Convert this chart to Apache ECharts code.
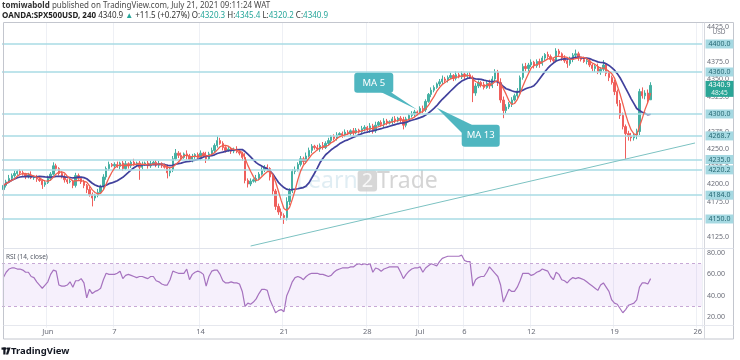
<!DOCTYPE html>
<html><head><meta charset="utf-8">
<script src="https://cdn.jsdelivr.net/npm/echarts@6/dist/echarts.min.js"></script>
<style>html,body{margin:0;padding:0;background:#fff}#c{width:740px;height:360px}</style>
</head><body><div id="c"></div>
<script>
// ---- data (4h bars, OANDA:SPX500USD) ----
const closes = [
4198,4203,4208,4212,4215,4218,4216,4214,4211,4213,
4209,4210,4207,4205,4199,4202,4208,4214,4226,4222,
4215,4210,4206,4203,4204,4198,4212,4208,4203,4198,
4192,4185,4180,4184,4188,4196,4210,4222,4228,4226,
4228,4225,4230,4222,4229,4226,4231,4228,4230,4224,
4228,4230,4226,4229,4231,4227,4229,4226,4224,4216,
4220,4236,4244,4241,4238,4243,4240,4235,4239,4242,
4238,4244,4241,4236,4243,4248,4255,4262,4258,4252,
4248,4250,4247,4250,4246,4244,4238,4205,4200,4204,
4206,4208,4214,4220,4224,4222,4210,4190,4168,4160,
4155,4152,4175,4190,4218,4220,4228,4236,4232,4240,
4248,4254,4252,4250,4255,4252,4258,4262,4268,4265,
4270,4272,4270,4274,4272,4276,4273,4277,4275,4279,
4281,4278,4283,4276,4284,4288,4285,4290,4287,4289,
4293,4290,4294,4292,4284,4293,4298,4300,4303,4301,
4308,4306,4318,4328,4334,4338,4343,4346,4350,4348,
4352,4355,4351,4356,4353,4357,4354,4356,4352,4330,
4340,4345,4342,4338,4344,4340,4350,4360,4345,4320,
4305,4310,4314,4320,4326,4333,4352,4368,4365,4370,
4374,4369,4375,4372,4380,4385,4382,4378,4376,4390,
4386,4380,4376,4372,4378,4384,4386,4380,4378,4375,
4376,4370,4365,4368,4360,4364,4370,4358,4352,4345,
4332,4315,4298,4282,4272,4268,4266,4270,4275,4332,
4326,4330,4320.3,4340.9];
const firstOpen = 4192;
const upperWicks = [
4,3,5,3,4,2,3,4,2,3,5,2,3,4,2,3,4,3,5,3,
2,3,4,2,3,2,4,3,2,3,2,4,3,2,5,3,4,3,4,2,
3,4,2,3,4,2,3,5,2,3,4,2,3,4,2,3,4,2,3,4,
3,4,6,3,4,2,5,3,4,2,3,4,2,5,3,4,3,6,4,3,
2,4,3,2,4,3,2,6,3,4,2,5,3,4,3,4,2,5,3,4,
5,3,6,4,3,5,3,4,3,5,4,3,2,4,3,5,3,4,2,3,
4,2,3,4,3,2,4,3,2,4,3,2,4,3,5,2,3,4,3,2,
3,4,2,3,4,3,2,4,3,2,3,4,3,2,4,3,2,4,5,3,
3,4,2,5,3,4,2,3,4,3,4,3,2,4,3,5,4,4,3,6,
5,4,3,4,3,4,3,4,5,3,4,2,3,4,3,2,4,3,2,4,
3,2,4,3,4,3,6,3,2,4,3,4,2,3,4,3,7,3,4,3,
4,3,5,4,3,4,5,3,4,4,6,4,5,4.5];
const lowerWicks = [
7,3,2,4,3,2,3,2,4,3,2,3,4,2,6,3,2,3,2,3,
3,2,4,3,2,4,3,2,3,4,5,3,12,4,3,2,3,4,3,2,
3,2,4,3,2,4,3,2,3,18,3,2,4,3,2,3,4,3,2,8,
5,3,2,4,3,2,5,3,4,3,2,4,3,6,2,3,4,3,2,4,
3,2,4,3,2,3,5,4,5,3,2,4,3,2,3,4,5,6,5,4,
6,9,4,5,3,4,2,3,4,3,2,4,3,2,4,3,2,3,4,3,
3,2,4,3,2,3,4,2,3,2,4,3,5,4,3,2,3,4,3,2,
4,3,2,4,6,3,2,3,4,3,2,5,3,2,4,3,2,3,4,3,
3,2,4,3,2,3,4,3,2,13,4,3,4,3,2,4,3,4,5,4,
11,4,3,4,2,3,4,3,4,5,3,4,3,6,3,4,3,4,3,2,
3,4,3,6,3,4,3,4,3,2,4,3,4,5,3,4,3,4,5,3,
5,4,5,4,36,6,5,4,6,5,4,5,4,0.1];
const rsiValues = [
57,62,65,66,66,65,65,64,62,62,
58,57,53,50,47,50,53,60,64,63,
50,49,49,50,53,48,54,54,56,52,
38,46,42,44,45,47,55,61,60,60,
60,61,63,56,59,60,59,58,57,58,
58,57,56,58,58,54,53,51,50,50,
55,63,62,61,61,61,65,55,60,62,
63,62,60,49,58,63,64,64,60,54,
52,52,53,52,52,51,44,30,33,32,
34,37,42,46,46,45,36,30,24,26,
27,25,40,46,53,57,58,57,55,58,
60,61,61,61,60,60,59,58,59,62,
64,65,66,66,66,67,67,69,70,69,
70,69,70,62,66,65,63,65,66,67,
67,67,67,62,56,60,63,65,66,66,
67,62,66,68,70,69,68,72,75,76,
77,77,77,77,77,78,73,72,72,49,
55,57,58,58,62,67,64,61,58,50,
34,40,46,44,44,48,54,61,61,61,
59,60,62,63,65,64,63,58,55,62,
60,55,54,52,55,57,56,57,56,55,
53,51,49,47,45,50,52,48,44,36,
33,32,28,24,27,31,32,33,36,48,
52,52,51,56];
const levels = [4400.0, 4360.0, 4300.0, 4268.7, 4235.0, 4220.2, 4184.0, 4150.0];
const trendLine = [[89, 4111.4], [249, 4258.6]];
const tickIdx = [16, 40, 71, 101, 131, 150, 166, 190, 220, 250];
const tickText = ['Jun', '7', '14', '21', '28', 'Jul', '6', '12', '19', '26'];
const lastPrice = 4340.9;
const countdown = '48:45';
const totalSlots = 252;
const ma5Anchor = [149, 4306];
const ma13Anchor = [156, 4309];

// ---- build ----
const FONT = 'Noto Sans';
const cats = Array.from({length: totalSlots}, (_, i) => String(i));
const ohlc = closes.map((c, i) => {
  const o = i === 0 ? firstOpen : closes[i - 1];
  return [o, c, Math.min(o, c) - lowerWicks[i], Math.max(o, c) + upperWicks[i]];
});
function sma(n) {
  return closes.map((_, i) => {
    const s = Math.max(0, i - n + 1); let t = 0;
    for (let k = s; k <= i; k++) t += closes[k];
    return +(t / (i - s + 1)).toFixed(2);
  });
}
const isTick = (i) => tickIdx.indexOf(i) >= 0;
const vGrid = {show: true, interval: isTick, lineStyle: {color: '#eef0f5', width: 1}};

const chart = echarts.init(document.getElementById('c'));
chart.setOption({
  animation: false,
  textStyle: {fontFamily: FONT},
  grid: [
    {left: 2, right: 38, top: 9, height: 245},
    {left: 2, right: 38, top: 231.7, height: 96}
  ],
  xAxis: [
    {type: 'category', gridIndex: 0, data: cats, axisLine: {show: false}, axisTick: {show: false},
     axisLabel: {show: false}, splitLine: vGrid},
    {type: 'category', gridIndex: 1, data: cats, axisLine: {show: false}, axisTick: {show: false},
     axisLabel: {show: true, interval: isTick, formatter: (v) => tickText[tickIdx.indexOf(+v)] || '',
       fontSize: 7.5, color: '#6a6d78', margin: 0, fontFamily: FONT},
     splitLine: vGrid}
  ],
  yAxis: [
    {type: 'value', gridIndex: 0, position: 'right', min: 4100, max: 4450, interval: 25,
     axisLine: {show: false}, axisTick: {show: false}, splitLine: {show: false},
     axisLabel: {formatter: (v) => (v < 4125 || v > 4425) ? '' : v.toFixed(1), fontSize: 7, color: '#6a6d78', margin: 5, fontFamily: FONT}},
    {type: 'value', gridIndex: 1, position: 'right', min: 10, max: 100, interval: 10,
     axisLine: {show: false}, axisTick: {show: false}, splitLine: {show: false},
     axisLabel: {formatter: (v) => [20, 40, 60, 80].indexOf(v) >= 0 ? v.toFixed(2) : '', fontSize: 7, color: '#6a6d78', margin: 5, fontFamily: FONT}}
  ],
  series: [
    {type: 'candlestick', xAxisIndex: 0, yAxisIndex: 0, data: ohlc, barWidth: 1.8,
     itemStyle: {color: '#45b0a3', color0: '#ef5f5c', borderColor: '#45b0a3', borderColor0: '#ef5f5c', borderWidth: 1},
     markLine: {silent: true, symbol: 'none', label: {show: false}, animation: false,
       data: levels.map((v) => ({yAxis: v, lineStyle: {color: '#a9dbe4', width: 1.5, type: 'solid'}}))
         .concat([[{coord: [String(trendLine[0][0]), trendLine[0][1]], lineStyle: {color: '#7cc2c2', width: 1, type: 'solid'}},
                   {coord: [String(trendLine[1][0]), trendLine[1][1]]}]])}},
    {type: 'line', name: 'MA 13', xAxisIndex: 0, yAxisIndex: 0, data: sma(13), symbol: 'none', z: 4,
     lineStyle: {color: '#41419c', width: 1.7}},
    {type: 'line', name: 'MA 5', xAxisIndex: 0, yAxisIndex: 0, data: sma(5), symbol: 'none', z: 5,
     lineStyle: {color: '#f0604f', width: 1.3}},
    {type: 'line', name: 'RSI', xAxisIndex: 1, yAxisIndex: 1, data: rsiValues, symbol: 'none',
     lineStyle: {color: '#a673bf', width: 1.2},
     markArea: {silent: true, itemStyle: {color: 'rgba(170,110,225,0.10)'}, data: [[{yAxis: 30}, {yAxis: 70}]]},
     markLine: {silent: true, symbol: 'none', label: {show: false},
       lineStyle: {color: '#c7a9d6', type: [3, 3], width: 1}, data: [{yAxis: 70}, {yAxis: 30}]}}
  ]
});

// ---- annotations ----
const px = (i, v) => chart.convertToPixel({xAxisIndex: 0, yAxisIndex: 0}, [String(i), v]);
const py = (v) => chart.convertToPixel({yAxisIndex: 0}, v);
const g = [];
g.push({type: 'text', z: 1, silent: true, style: {x: 296, y: 181, verticalAlign: 'middle', opacity: 0.8,
  text: '{a|Learn}{b|2}{c|Trade}',
  rich: {a: {fontSize: 23, fontFamily: FONT, fill: '#d8e9f0'},
         b: {fontSize: 20, fontFamily: FONT, fill: '#ffffff', backgroundColor: '#cdcdcd', borderRadius: 3, padding: [1, 4, 0, 4]},
         c: {fontSize: 23, fontFamily: FONT, fill: '#cbcbcb'}}}});
g.push({type: 'rect', z: 50, silent: true, shape: {x: 0, y: 0, width: 740, height: 22.5}, style: {fill: '#fff'}});
g.push({type: 'rect', z: 50, silent: true, shape: {x: 0, y: 339.5, width: 740, height: 21}, style: {fill: '#fff'}});
g.push({type: 'rect', z: 60, silent: true, shape: {x: 3.5, y: 22.5, width: 730, height: 316.5}, style: {fill: null, stroke: '#c3c6ce', lineWidth: 1}});
g.push({type: 'line', z: 60, silent: true, shape: {x1: 704.5, y1: 22.5, x2: 704.5, y2: 339}, style: {stroke: '#d6d8de', lineWidth: 1}});
g.push({type: 'line', z: 60, silent: true, shape: {x1: 3.5, y1: 248.5, x2: 733.5, y2: 248.5}, style: {stroke: '#e0e3eb', lineWidth: 1}});
g.push({type: 'line', z: 60, silent: true, shape: {x1: 3.5, y1: 325.5, x2: 733.5, y2: 325.5}, style: {stroke: '#e6e8ee', lineWidth: 1}});
// header
g.push({type: 'text', z: 61, silent: true, style: {x: 2, y: 5.5, verticalAlign: 'middle',
  text: '{b|tomiwabold} published on TradingView.com, July 21, 2021 09:11:24 WAT',
  fontSize: 8, fontFamily: FONT, fill: '#4a4a4a', rich: {b: {fontSize: 8, fontWeight: 'bold', fontFamily: FONT, fill: '#333'}}}});
g.push({type: 'text', z: 61, silent: true, style: {x: 2, y: 16, verticalAlign: 'middle',
  text: '{b|OANDA:SPX500USD, 240} 4340.9 {g|\u25B2} +11.5 (+0.27%) O:{g|4320.3} H:{g|4345.4} L:{g|4320.2} C:{g|4340.9}',
  fontSize: 8, fontFamily: FONT, fill: '#333',
  rich: {b: {fontSize: 8, fontWeight: 'bold', fontFamily: FONT, fill: '#222'}, g: {fontSize: 8, fontFamily: FONT, fill: '#26a69a'}}}});
g.push({type: 'text', z: 61, silent: true, style: {x: 719, y: 32.5, text: 'USD', align: 'center', verticalAlign: 'middle', fontSize: 6.5, fontFamily: FONT, fill: '#787b86'}});
// level labels
levels.forEach((v) => {
  const y = py(v);
  g.push({type: 'rect', z: 62, silent: true, shape: {x: 705.5, y: y - 4.5, width: 28, height: 9}, style: {fill: '#a6d9e2'}});
  g.push({type: 'text', z: 63, silent: true, style: {x: 719.5, y: y, text: v.toFixed(1), align: 'center', verticalAlign: 'middle', fontSize: 7, fontFamily: FONT, fill: '#276a75'}});
});
{
  const y = py(lastPrice);
  g.push({type: 'rect', z: 64, silent: true, shape: {x: 705.5, y: y - 4.5, width: 28, height: 16}, style: {fill: '#2aa596'}});
  g.push({type: 'text', z: 65, silent: true, style: {x: 719.5, y: y, text: lastPrice.toFixed(1), align: 'center', verticalAlign: 'middle', fontSize: 7, fontFamily: FONT, fill: '#fff'}});
  g.push({type: 'text', z: 65, silent: true, style: {x: 719.5, y: y + 7.5, text: countdown, align: 'center', verticalAlign: 'middle', fontSize: 6.5, fontFamily: FONT, fill: '#e8f7f5'}});
}
// RSI title
g.push({type: 'text', z: 61, silent: true, style: {x: 6, y: 256.7, text: 'RSI (14, close)', verticalAlign: 'middle', fontSize: 6.5, fontFamily: FONT, fill: '#555a66'}});
// MA callouts
{
  const [ax, ay] = px(ma5Anchor[0], ma5Anchor[1]);
  g.push({type: 'polygon', z: 70, silent: true, shape: {points: [[ax, ay], [ax - 37, ay - 18], [ax - 27, ay - 18]]}, style: {fill: '#4fb6c0'}});
  g.push({type: 'rect', z: 70, silent: true, shape: {x: ax - 63, y: ay - 37, width: 39, height: 20, r: 3}, style: {fill: '#4fb6c0'}});
  g.push({type: 'text', z: 71, silent: true, style: {x: ax - 43.5, y: ay - 27, text: 'MA 5', align: 'center', verticalAlign: 'middle', fontSize: 9.5, fontFamily: FONT, fill: '#fff'}});
}
{
  const [ax, ay] = px(ma13Anchor[0], ma13Anchor[1]);
  g.push({type: 'polygon', z: 70, silent: true, shape: {points: [[ax, ay], [ax + 25, ay + 25], [ax + 35, ay + 17]]}, style: {fill: '#4fb6c0'}});
  g.push({type: 'rect', z: 70, silent: true, shape: {x: ax + 25, y: ay + 17, width: 38, height: 22, r: 3}, style: {fill: '#4fb6c0'}});
  g.push({type: 'text', z: 71, silent: true, style: {x: ax + 44, y: ay + 28, text: 'MA 13', align: 'center', verticalAlign: 'middle', fontSize: 9.5, fontFamily: FONT, fill: '#fff'}});
}
// TradingView logo
g.push({type: 'rect', z: 61, silent: true, shape: {x: 1.5, y: 347.5, width: 4.5, height: 2.2}, style: {fill: '#131722'}});
g.push({type: 'rect', z: 61, silent: true, shape: {x: 3.3, y: 347.5, width: 2.2, height: 7}, style: {fill: '#131722'}});
g.push({type: 'circle', z: 61, silent: true, shape: {cx: 7.3, cy: 348.6, r: 1.1}, style: {fill: '#131722'}});
g.push({type: 'polygon', z: 61, silent: true, shape: {points: [[8.2, 347.5], [10.6, 347.5], [8.2, 354.5], [5.9, 354.5]]}, style: {fill: '#131722'}});
g.push({type: 'text', z: 61, silent: true, style: {x: 11, y: 351.2, text: 'TradingView', verticalAlign: 'middle', fontSize: 9.5, fontWeight: 'bold', fontFamily: FONT, fill: '#131722'}});
chart.setOption({graphic: g});
</script>
</body></html>
